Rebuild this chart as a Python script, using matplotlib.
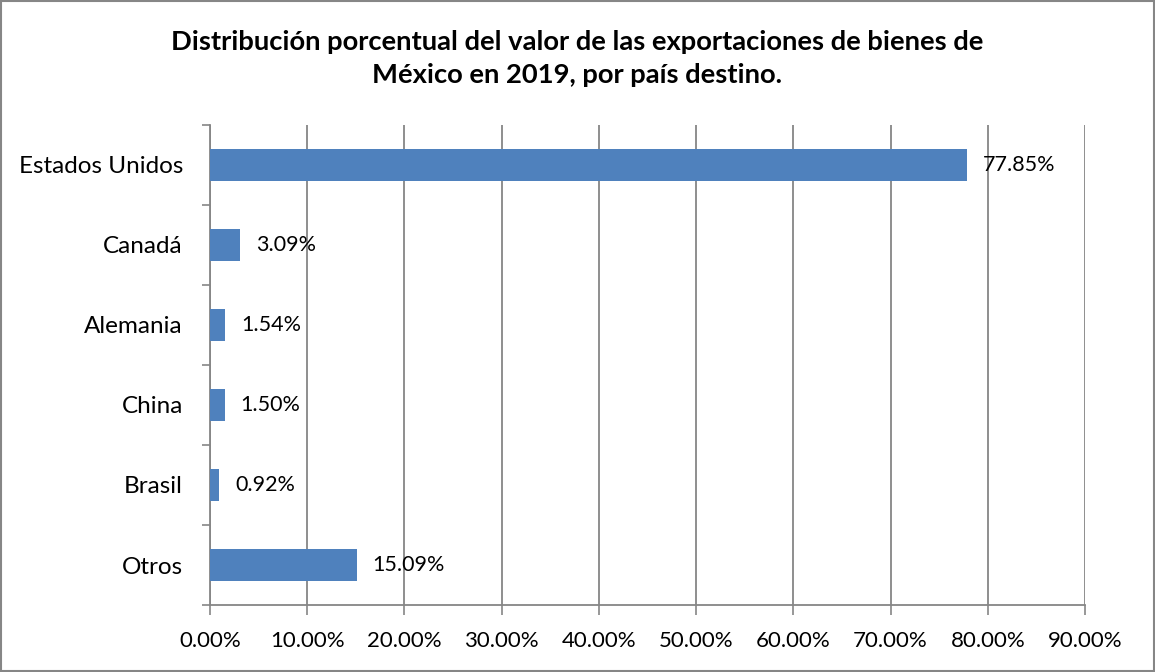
import matplotlib

matplotlib.use("Agg")
import matplotlib.pyplot as plt  # noqa: E402
import numpy as np  # noqa: E402

plt.rcParams["font.family"] = ["Lato", "DejaVu Sans"]

# Export share by destination country, 2019 (percent)
countries = ["Estados Unidos", "Canadá", "Alemania", "China", "Brasil", "Otros"]
shares = [77.85, 3.09, 1.54, 1.50, 0.92, 15.09]
x_ticks = [0, 10, 20, 30, 40, 50, 60, 70, 80, 90]

title = ("Distribución porcentual del valor de las exportaciones de bienes de\n"
         "México en 2019, por país destino.")

BAR_COLOR = "#4F81BD"
GRID_COLOR = "#868686"

fig = plt.figure(figsize=(11.55, 6.72), dpi=100)
ax = fig.add_axes([0.1818, 0.0997, 0.7576, 0.7143])

n = len(countries)
pos = np.arange(n)[::-1]  # first category on top
ax.barh(pos, shares, height=0.4, color=BAR_COLOR, zorder=3)

for p, v in zip(pos, shares):
    ax.annotate(f"{v:.2f}%", (v, p), xytext=(11.5, 0), textcoords="offset points",
                ha="left", va="center", fontsize=15.5, zorder=4)

ax.set_xlim(0, 90)
ax.set_ylim(-0.5, n - 0.5)
ax.set_xticks(x_ticks)
ax.set_xticklabels([f"{t:.2f}%" for t in x_ticks], fontsize=16)
ax.set_yticks(pos)
ax.set_yticklabels(countries, fontsize=17.5)
ax.set_yticks(np.arange(n + 1) - 0.5, minor=True)

ax.tick_params(axis="y", which="major", length=0, pad=19.5)
ax.tick_params(axis="y", which="minor", length=6, width=1.2, color=GRID_COLOR)
ax.tick_params(axis="x", length=7, width=1.2, color=GRID_COLOR, pad=11.5)

ax.grid(axis="x", color=GRID_COLOR, linewidth=1.3, zorder=0)
for side in ("top", "right"):
    ax.spines[side].set_visible(False)
for side in ("left", "bottom"):
    ax.spines[side].set_color(GRID_COLOR)
    ax.spines[side].set_linewidth(1.3)

fig.text(0.5, 0.871, title, ha="center", va="bottom", fontsize=19.7,
         fontweight="bold", linespacing=1.42)

# Outer chart border
fig.patches.append(plt.Rectangle((0.001, 0.001), 0.998, 0.997, transform=fig.transFigure,
                                 fill=False, edgecolor="#868686", linewidth=1.5))

fig.savefig("out.png", dpi=100)
